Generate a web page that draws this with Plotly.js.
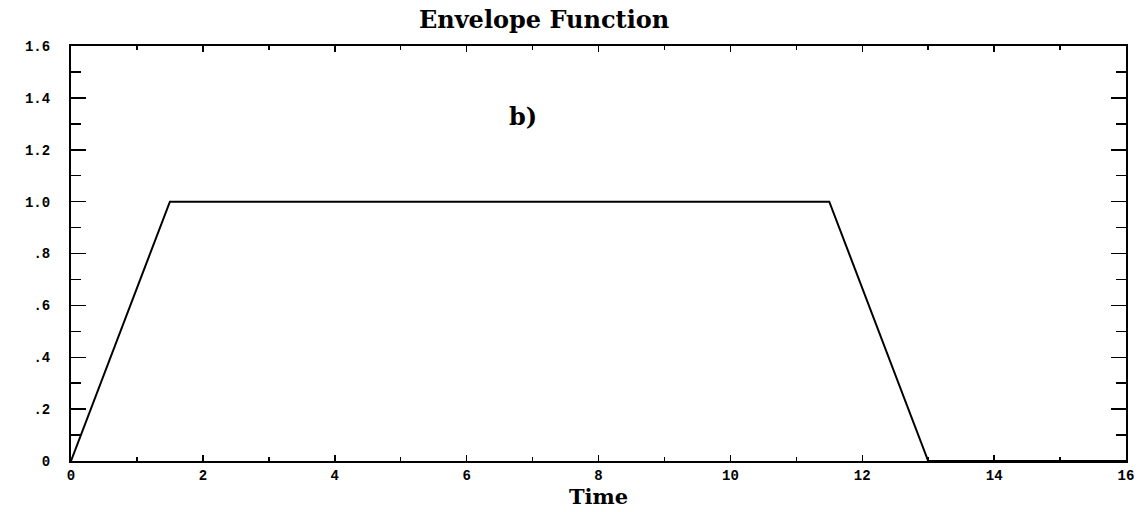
<!DOCTYPE html>
<html>
<head>
<meta charset="utf-8">
<script src="https://cdn.plot.ly/plotly-3.0.1.min.js"></script>
<style>html,body{margin:0;padding:0;background:#fff;}#chart{width:1143px;height:512px;}</style>
</head>
<body>
<div id="chart"></div>
<script>
// Envelope function breakpoints
const timeValues = [0, 1.5, 11.5, 13, 16];
const envelopeValues = [0, 1, 1, 0, 0];
const yTickVals = [0, 0.2, 0.4, 0.6, 0.8, 1.0, 1.2, 1.4, 1.6];
const yTickText = ["0", ".2", ".4", ".6", ".8", "1.0", "1.2", "1.4", "1.6"];
const xTickVals = [0, 2, 4, 6, 8, 10, 12, 14, 16];
const xTickText = ["0", "2", "4", "6", "8", "10", "12", "14", "16"];

const tickFont = {family: "Liberation Mono, DejaVu Sans Mono, monospace", size: 14, color: "#000", weight: "bold"};

const data = [{
  x: timeValues,
  y: envelopeValues,
  type: "scatter",
  mode: "lines",
  line: {color: "#000", width: 2},
  hoverinfo: "skip",
  cliponaxis: false
}];

const layout = {
  width: 1143,
  height: 512,
  margin: {l: 71, r: 17, t: 46, b: 51},
  paper_bgcolor: "#fff",
  plot_bgcolor: "#fff",
  showlegend: false,
  title: {
    text: "<b>Envelope Function</b>",
    font: {family: "DejaVu Serif, Liberation Serif, serif", size: 24, color: "#000"},
    x: 0.476, xanchor: "center",
    y: 0.962, yanchor: "middle"
  },
  xaxis: {
    range: [0, 16],
    showgrid: false,
    zeroline: false,
    showline: true,
    linecolor: "#000",
    linewidth: 2,
    mirror: "allticks",
    ticks: "inside",
    ticklen: 6,
    tickwidth: 1.5,
    tickcolor: "#000",
    tickvals: xTickVals,
    ticktext: xTickText,
    tickfont: tickFont,
    ticklabelstandoff: 0,
    minor: {dtick: 1, tick0: 0, ticks: "inside", ticklen: 4, tickwidth: 1.5, tickcolor: "#000", showgrid: false},
    title: {
      text: "<b>Time</b>",
      font: {family: "DejaVu Serif, Liberation Serif, serif", size: 21, color: "#000"},
      standoff: 0
    }
  },
  yaxis: {
    range: [0, 1.6],
    showgrid: false,
    zeroline: false,
    showline: true,
    linecolor: "#000",
    linewidth: 2,
    mirror: "allticks",
    ticks: "inside",
    ticklen: 15,
    tickwidth: 1.5,
    tickcolor: "#000",
    tickvals: yTickVals,
    ticktext: yTickText,
    tickfont: tickFont,
    ticklabelstandoff: 16,
    minor: {dtick: 0.1, tick0: 0, ticks: "inside", ticklen: 10, tickwidth: 1.5, tickcolor: "#000", showgrid: false}
  },
  annotations: [{
    x: 6.85, y: 1.33,
    xref: "x", yref: "y",
    text: "<b>b)</b>",
    showarrow: false,
    font: {family: "DejaVu Serif, Liberation Serif, serif", size: 24, color: "#000"}
  }]
};

Plotly.newPlot("chart", data, layout, {displayModeBar: false, staticPlot: true});
</script>
</body>
</html>
